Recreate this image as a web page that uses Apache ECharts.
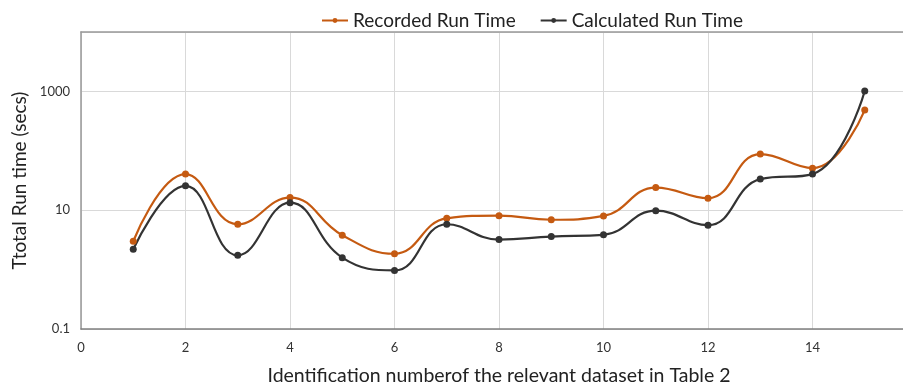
<!DOCTYPE html>
<html>
<head>
<meta charset="utf-8">
<script src="https://cdn.jsdelivr.net/npm/echarts@6/dist/echarts.min.js"></script>
<style>
html,body{margin:0;padding:0;background:#fff;}
#chart{width:903px;height:391px;}
</style>
</head>
<body>
<div id="chart"></div>
<script>
const ids = [1, 2, 3, 4, 5, 6, 7, 8, 9, 10, 11, 12, 13, 14, 15];
const recordedRunTime = [3.0, 40.5, 5.8, 16.3, 3.8, 1.85, 7.3, 8.1, 6.9, 8.0, 24, 15.9, 88, 51, 485];
const calculatedRunTime = [2.2, 25.7, 1.74, 13.4, 1.59, 0.97, 5.8, 3.2, 3.6, 3.85, 9.8, 5.6, 33.4, 40.5, 1015];
const seriesNames = ['Recorded Run Time', 'Calculated Run Time'];

const FONT = 'Lato, "Open Sans", sans-serif';
const chart = echarts.init(document.getElementById('chart'));
chart.setOption({
  animation: false,
  backgroundColor: '#fff',
  legend: {
    top: 6,
    left: 316,
    itemWidth: 26,
    itemHeight: 6,
    itemGap: 24,
    textStyle: {fontFamily: FONT, fontSize: 19, color: '#222'},
    data: seriesNames
  },
  grid: {left: 81, width: 836, top: 32, bottom: 62, containLabel: false, outerBoundsMode: 'none'},
  xAxis: [{
    type: 'value',
    min: 0, max: 16, interval: 2,
    name: 'Identification numberof the relevant dataset in Table 2',
    nameLocation: 'middle',
    nameGap: 37,
    nameTextStyle: {fontFamily: FONT, fontSize: 19.5, color: '#222'},
    axisLine: {show: true, lineStyle: {color: '#808080', width: 1.5}},
    axisTick: {show: false},
    axisLabel: {fontFamily: FONT, fontSize: 13, color: '#333', margin: 12, showMaxLabel: false},
    splitLine: {show: true, lineStyle: {color: '#d9d9d9', width: 1}}
  }, {
    type: 'value', position: 'top', min: 0, max: 16,
    axisLine: {show: true, lineStyle: {color: '#999', width: 1.5}},
    axisTick: {show: false}, axisLabel: {show: false}, splitLine: {show: false}
  }],
  yAxis: {
    type: 'log',
    logBase: 10,
    min: 0.1,
    max: 10000,
    interval: 2,
    axisLabel: {
      fontFamily: FONT, fontSize: 13, color: '#333', margin: 11,
      showMaxLabel: false,
      formatter: v => String(v)
    },
    axisTick: {show: false},
    name: 'Ttotal Run time (secs)',
    nameLocation: 'middle',
    nameGap: 48,
    nameTextStyle: {fontFamily: FONT, fontSize: 19, color: '#222'},
    axisLine: {show: true, lineStyle: {color: '#999', width: 1.5}},
    splitLine: {show: true, lineStyle: {color: '#d9d9d9', width: 1}}
  },
  series: [{
    name: seriesNames[0],
    type: 'line',
    smooth: 0.45,
    symbol: 'circle',
    symbolSize: 7,
    color: '#C55A11',
    lineStyle: {width: 2.2, color: '#C55A11'},
    data: ids.map((x, i) => [x, recordedRunTime[i]])
  }, {
    name: seriesNames[1],
    type: 'line',
    smooth: 0.45,
    symbol: 'circle',
    symbolSize: 7,
    color: '#333333',
    lineStyle: {width: 2.2, color: '#333333'},
    data: ids.map((x, i) => [x, calculatedRunTime[i]])
  }]
});
</script>
</body>
</html>
